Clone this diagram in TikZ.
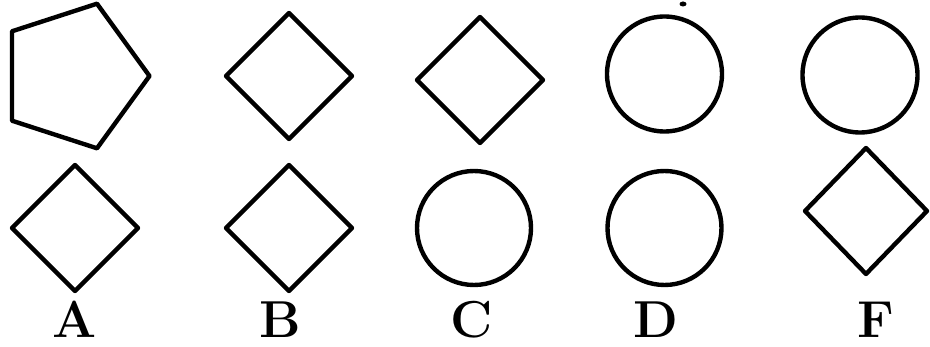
\documentclass[tikz,border=0pt]{standalone}
\begin{document}
\begin{tikzpicture}[x=1pt,y=-1pt,
  shp/.style={draw=black,line width=4.4pt,line join=round},
  lbl/.style={font=\fontsize{52}{52}\selectfont\bfseries,inner sep=0pt,anchor=base}]
\useasboundingbox (0,0) rectangle (930,347);
% top row
\draw[shp] (149.5,76) -- (97,148.3) -- (12,120.7) -- (12,31.3) -- (97,3.7) -- cycle;
\draw[shp] (289,13) -- (352,76) -- (289,139) -- (226,76) -- cycle;
\draw[shp] (480,17) -- (543,80) -- (480,143) -- (417,80) -- cycle;
\draw[shp] (664.5,74) circle[radius=57.5];
\draw[shp] (860,75) circle[radius=57.5];
% bottom row
\draw[shp] (75,165) -- (138,228) -- (75,291) -- (12,228) -- cycle;
\draw[shp] (289,165) -- (352,228) -- (289,291) -- (226,228) -- cycle;
\draw[shp] (474,228) circle[radius=57];
\draw[shp] (664.5,228) circle[radius=57];
\draw[shp] (866,148) -- (927,211) -- (866,274) -- (805,211) -- cycle;
% small cropped mark at top
\fill[black] (683,4) ellipse[x radius=3.5, y radius=2.5];
% labels
\node[lbl] (la) at (75,338) {A};
\node[lbl] (lb) at (280,338) {B};
\node[lbl] (lc) at (472,338) {C};
\node[lbl] (ld) at (656,338) {D};
\node[lbl] (lf) at (876,338) {F};
\end{tikzpicture}
\end{document}
